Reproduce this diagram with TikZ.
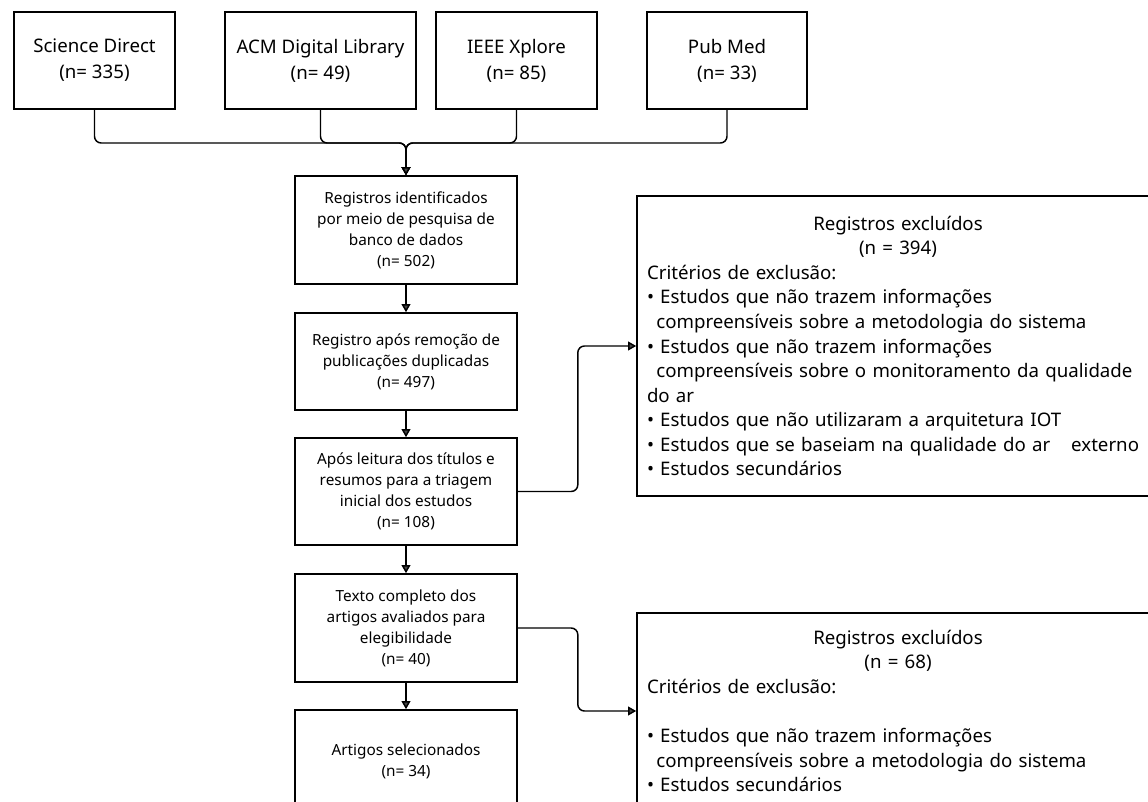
\documentclass[tikz,border=0pt]{standalone}
\usepackage{fontspec}
\setmainfont{Noto Sans}
\usetikzlibrary{arrows.meta}

\tikzset{every picture/.style={line width=0.75pt}}
\tikzset{
  srcbox/.style={draw,line width=1.2pt,minimum width=#1,minimum height=72.75pt,
    align=center,inner sep=0pt,font=\fontsize{14}{19.5}\selectfont},
  stagebox/.style={draw,line width=1.2pt,minimum width=166.5pt,minimum height=#1,
    align=center,inner sep=0pt,font=\fontsize{11.5}{15.75}\selectfont},
  exbox/.style={draw,line width=1.2pt,minimum height=#1,text width=376.5pt,
    inner xsep=7.5pt,align=left,font=\fontsize{14}{18.4}\selectfont},
  flow/.style={line width=1.1pt,rounded corners=5pt,
    -{Triangle[length=6pt,width=6.5pt,fill=gray!55!black]}}
}

\begin{document}
\begin{tikzpicture}[x=0.75pt,y=0.75pt,yscale=-1,xscale=1]
		%set diagram size 1148 x 802
		\useasboundingbox (0,0) rectangle (1148,802);
		\clip (0,0) rectangle (1148,802);
		
		%Shape: Rectangle [sources]
		\node[srcbox=120.75pt] (sd) at (94.5,60.5) {Science Direct\\(n= 335)};
		\node[srcbox=143.25pt] (acm) at (320.5,60.5) {ACM Digital Library\\(n= 49)};
		\node[srcbox=120.75pt] (ieee) at (516.5,60.5) {IEEE Xplore\\(n= 85)};
		\node[srcbox=120pt] (pub) at (727,60.5) {Pub Med\\(n= 33)};
		
		%Shape: Rectangle [stages]
		\node[stagebox=81pt] (reg) at (406,230) {Registros identificados\\por meio de pesquisa de\\banco de dados\\(n= 502)};
		\node[stagebox=72.75pt] (dup) at (406,361.5) {Registro após remoção de\\publicações duplicadas\\(n= 497)};
		\node[stagebox=80.25pt] (scr) at (406,491.5) {Após leitura dos títulos e\\resumos para a triagem\\inicial dos estudos\\(n= 108)};
		\node[stagebox=81pt] (full) at (406,628) {Texto completo dos\\artigos avaliados para\\elegibilidade\\(n= 40)};
		\node[stagebox=76.5pt] (sel) at (406,761) {Artigos selecionados\\(n= 34)};
		
		%Shape: Rectangle [exclusions]
		\node[exbox=225pt] (ex1) at (898,346) {\centering Registros excluídos\\(n = 394)\par
			\raggedright Critérios de exclusão:\\
			• Estudos que não trazem informações\\
			\hspace*{7pt}compreensíveis sobre a metodologia do sistema\\
			• Estudos que não trazem informações\\
			\hspace*{7pt}compreensíveis sobre o monitoramento da qualidade\\
			do ar\\
			• Estudos que não utilizaram a arquitetura IOT\\
			• Estudos que se baseiam na qualidade do ar\hspace{11pt} externo\\
			• Estudos secundários};
		\node[exbox=147pt] (ex2) at (898,711) {\centering Registros excluídos\\(n = 68)\par
			\raggedright Critérios de exclusão:\\[18.4pt]
			• Estudos que não trazem informações\\
			\hspace*{7pt}compreensíveis sobre a metodologia do sistema\\
			• Estudos secundários};
		
		%Connectors [merge of the sources]
		\coordinate (merge) at (406,143);
		\draw[flow] (sd.south) |- (merge) -- (reg.north);
		\draw[flow] (acm.south) |- (merge) -- (reg.north);
		\draw[flow] (ieee.south) |- (merge) -- (reg.north);
		\draw[flow] (pub.south) |- (merge) -- (reg.north);
		
		%Straight Lines [stages]
		\draw[flow] (reg) -- (dup);
		\draw[flow] (dup) -- (scr);
		\draw[flow] (scr) -- (full);
		\draw[flow] (full) -- (sel);
		
		%Connectors [exclusions]
		\draw[flow] (scr.east) -- ++(60,0) |- (ex1.west);
		\draw[flow] (full.east) -- ++(60,0) |- (ex2.west);
	\end{tikzpicture}
\end{document}
